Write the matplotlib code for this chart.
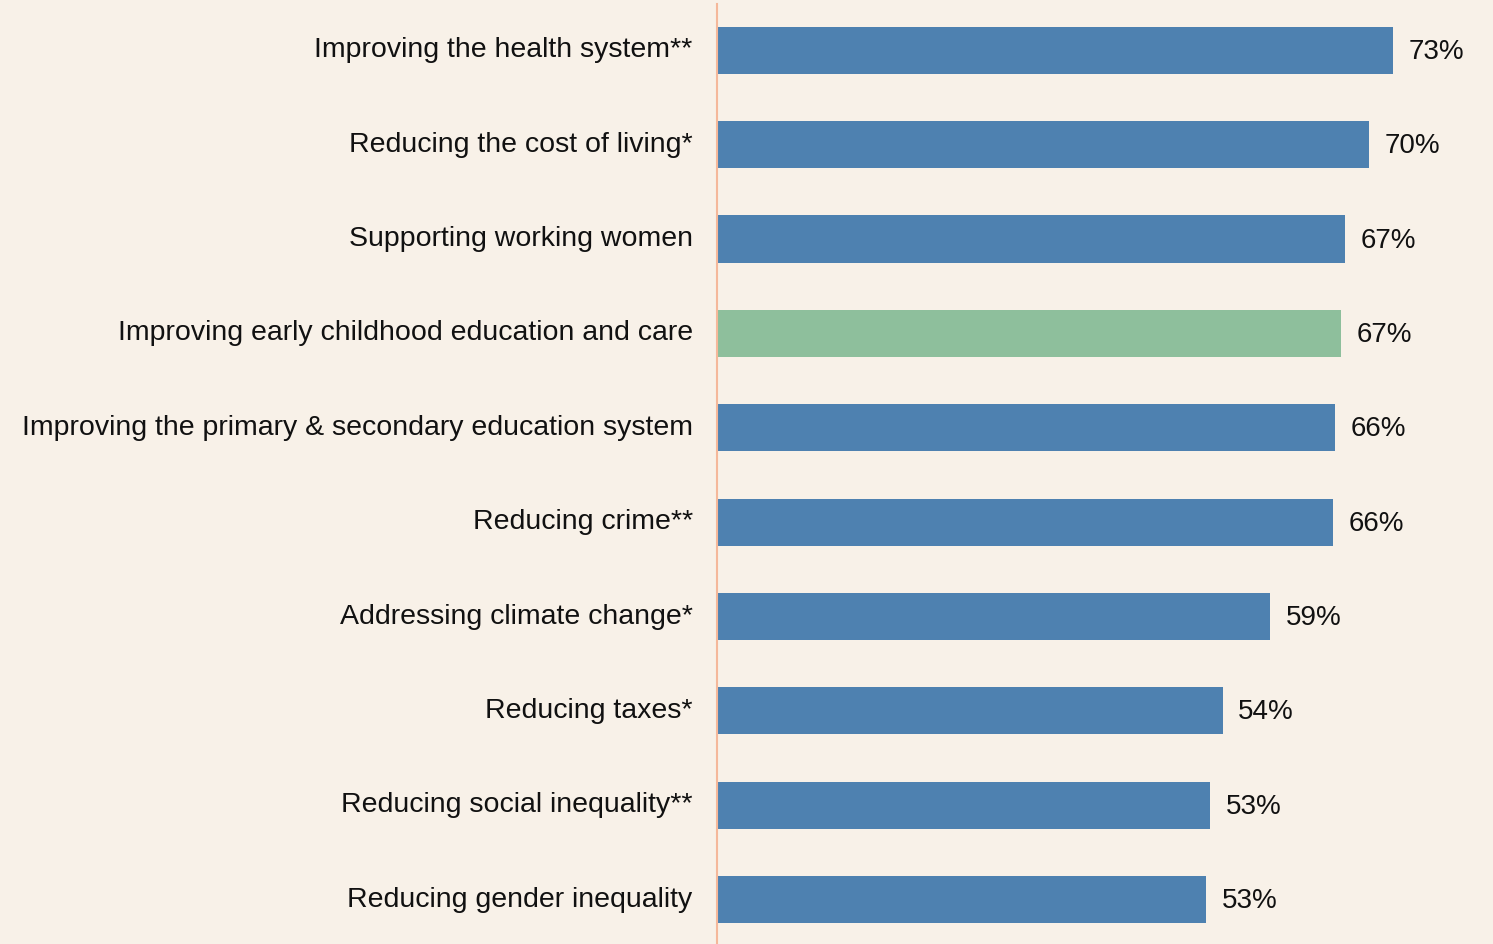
import matplotlib
matplotlib.use("Agg")
import matplotlib.pyplot as plt
from matplotlib.transforms import ScaledTranslation

categories = [
    "Improving the health system**",
    "Reducing the cost of living*",
    "Supporting working women",
    "Improving early childhood education and care",
    "Improving the primary & secondary education system",
    "Reducing crime**",
    "Addressing climate change*",
    "Reducing taxes*",
    "Reducing social inequality**",
    "Reducing gender inequality",
]
values = [73.0, 70.4, 67.8, 67.4, 66.7, 66.5, 59.7, 54.6, 53.2, 52.8]
value_labels = ["73%", "70%", "67%", "67%", "66%", "66%", "59%", "54%", "53%", "53%"]
highlight = "Improving early childhood education and care"

BG = "#F8F1E8"
BLUE = "#4E81B0"
GREEN = "#8EBF9C"
AXIS = "#F5B89A"

plt.rcParams['font.family'] = ['Liberation Sans', 'DejaVu Sans']

W, H = 1493, 944
fig = plt.figure(figsize=(W / 100, H / 100), dpi=100, facecolor=BG)
ax = fig.add_axes([717 / W, 0, (W - 717) / W, (944 - 4) / H])
ax.set_facecolor(BG)

ypos = list(range(len(categories)))
colors = [GREEN if c == highlight else BLUE for c in categories]
ax.barh(ypos, values, height=0.5, color=colors)

ax.set_ylim(9.47, -0.49)
ax.set_xlim(0, 83.8)

down = ScaledTranslation(0, -1.5 / 100, fig.dpi_scale_trans)
for y, v, lab in zip(ypos, values, value_labels):
    ax.text(v + 1.7, y, lab, va="center", ha="left", fontsize=20, color="#111111",
            transform=ax.transData + down)

ax.set_yticks(ypos)
ax.set_yticklabels(categories, fontsize=20.5, color="#111111")
ax.tick_params(axis="y", length=0, pad=17.5)
up3 = ScaledTranslation(0, 3 / 100, fig.dpi_scale_trans)
for t in ax.get_yticklabels():
    t.set_transform(t.get_transform() + up3)
ax.set_xticks([])
for s in ["top", "right", "bottom"]:
    ax.spines[s].set_visible(False)
ax.spines["left"].set_color(AXIS)
ax.spines["left"].set_linewidth(1.5)

fig.savefig("out.png", dpi=100, facecolor=BG)
